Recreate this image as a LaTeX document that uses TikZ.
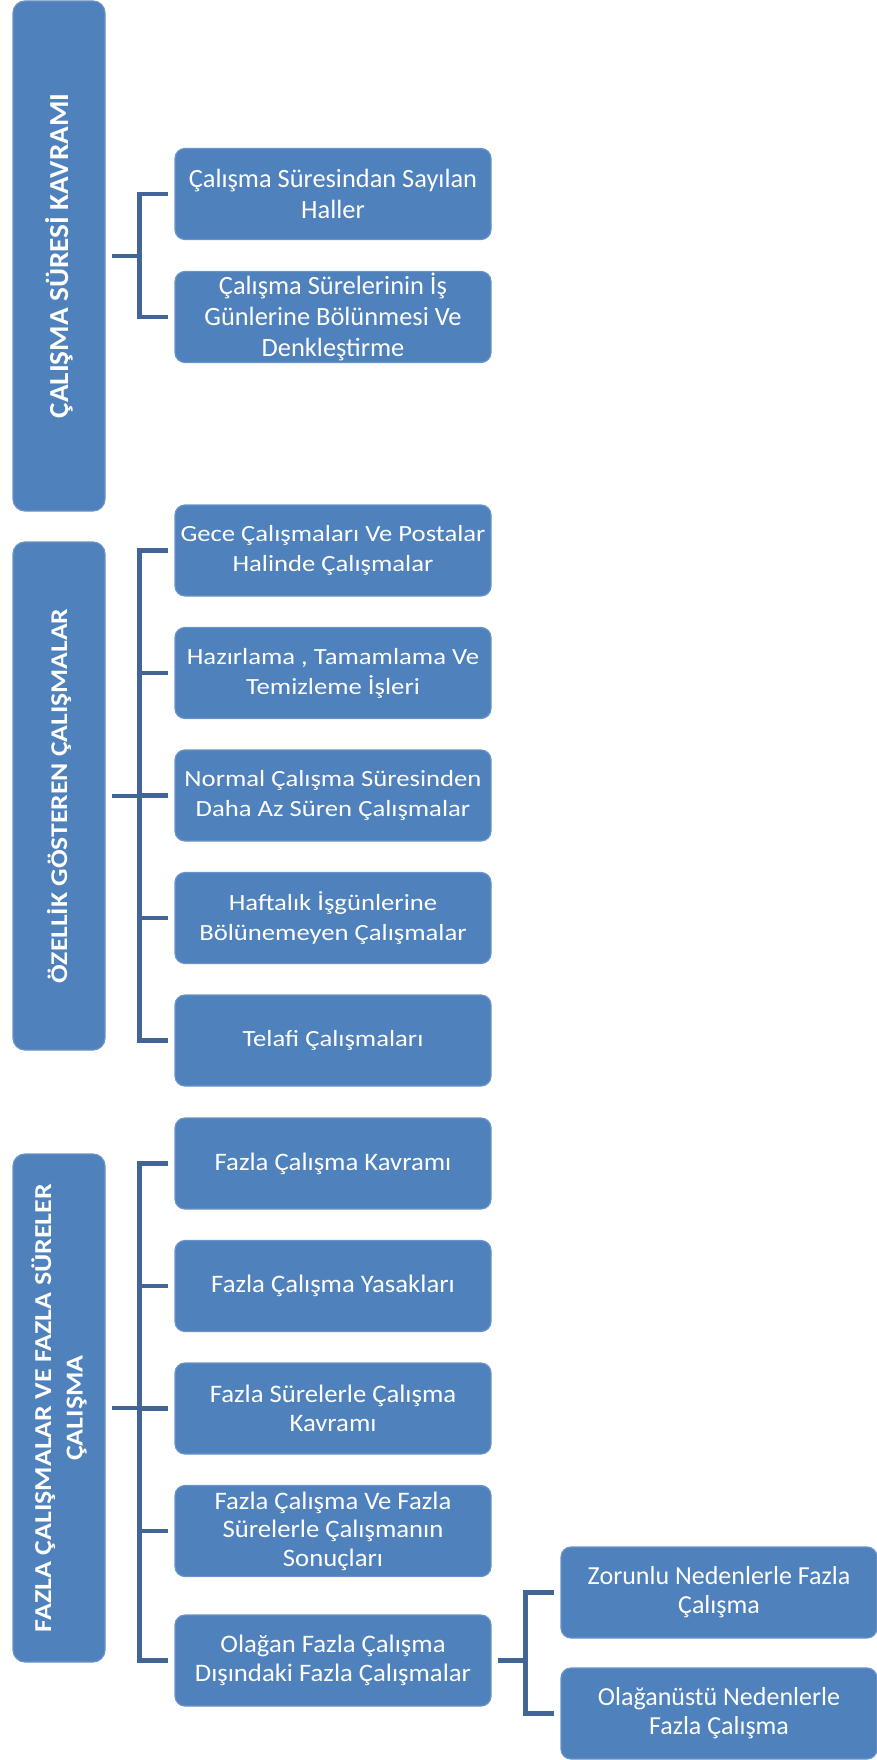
\documentclass[tikz,border=0pt]{standalone}
\usepackage{fontspec}
\setmainfont{Carlito}
\newfontfamily\duz{Carlito}
\newfontfamily\orta[FakeStretch=1.06]{Carlito}
\newfontfamily\genis[FakeStretch=1.15]{Carlito}
\definecolor{mavi}{RGB}{79,129,189}
\definecolor{koyumavi}{RGB}{64,101,150}

\begin{document}
\begin{tikzpicture}[x=0.5pt,y=-0.5pt,
  alt/.style={rounded corners=5pt, fill=mavi, draw=white!15!mavi, line width=0.6pt, text=white, inner sep=0pt, minimum width=158pt, minimum height=45.5pt, align=center},
  ana/.style={alt, rotate=90, rounded corners=6pt, minimum width=254pt, minimum height=46pt},
  hat/.style={draw=koyumavi, line width=2.4pt}]
\useasboundingbox (0,0) rectangle (877,1760);
\node[ana, minimum width=255pt, font=\orta\bfseries\fontsize{13.75}{16}\selectfont] (k1) at (59,256) {ÇALIŞMA SÜRESİ KAVRAMI};
\node[ana, font=\genis\bfseries\fontsize{12}{15}\selectfont] (k2) at (59,796) {ÖZELLİK GÖSTEREN ÇALIŞMALAR};
\node[ana, font=\genis\bfseries\fontsize{12.15}{15.65}\selectfont] (k3) at (59,1408) {FAZLA ÇALIŞMALAR VE FAZLA SÜRELER\\ÇALIŞMA};
\foreach \n/\y/\t in {c1/194/{Çalışma Süresindan Sayılan\\Haller}, c2/317/{Çalışma Sürelerinin İş\\Günlerine Bölünmesi Ve\\Denkleştirme}}
  \node[alt, font=\duz\fontsize{13.2}{15.3}\selectfont] (\n) at (333,\y) {\t};
\foreach \n/\y/\t in {d1/550.5/{Gece Çalışmaları Ve Postalar\\Halinde Çalışmalar}, d2/673/{Hazırlama , Tamamlama Ve\\Temizleme İşleri}, d3/795.5/{Normal Çalışma Süresinden\\Daha Az Süren Çalışmalar}, d4/918/{Haftalık İşgünlerine\\Bölünemeyen Çalışmalar}, d5/1040.5/{Telafi Çalışmaları}}
  \node[alt, font=\genis\fontsize{11.6}{15}\selectfont] (\n) at (333,\y) {\t};
\foreach \n/\y/\t in {e1/1163.5/{Fazla Çalışma Kavramı}, e2/1286/{Fazla Çalışma Yasakları}, e3/1408.5/{Fazla Sürelerle Çalışma\\Kavramı}, e4/1531/{Fazla Çalışma Ve Fazla\\Sürelerle Çalışmanın\\Sonuçları}, e5/1660.5/{Olağan Fazla Çalışma\\Dışındaki Fazla Çalışmalar}}
  \node[alt, font=\orta\fontsize{12.6}{14.3}\selectfont] (\n) at (333,\y) {\t};
\foreach \n/\y/\t in {f1/1592.5/{Zorunlu Nedenlerle Fazla\\Çalışma}, f2/1713.5/{Olağanüstü Nedenlerle\\Fazla Çalışma}}
  \node[alt, font=\duz\fontsize{13}{14.5}\selectfont] (\n) at (719,\y) {\t};
\draw[hat, shorten <=3pt] (k1.south) -- ++(34,0) coordinate (b1);
\draw[hat, shorten <=3pt] (k2.south) -- ++(34,0) coordinate (b2);
\draw[hat, shorten <=3pt] (k3.south) -- ++(34,0) coordinate (b3);
\draw[hat, shorten <=3pt] (e5.east) -- ++(34,0) coordinate (b4);
\foreach \i in {c1,c2} \draw[hat, shorten >=3pt] (b1) |- (\i.west);
\foreach \i in {d1,d2,d3,d4,d5} \draw[hat, shorten >=3pt] (b2) |- (\i.west);
\foreach \i in {e1,e2,e3,e4,e5} \draw[hat, shorten >=3pt] (b3) |- (\i.west);
\foreach \i in {f1,f2} \draw[hat, shorten >=3pt] (b4) |- (\i.west);
\end{tikzpicture}
\end{document}
